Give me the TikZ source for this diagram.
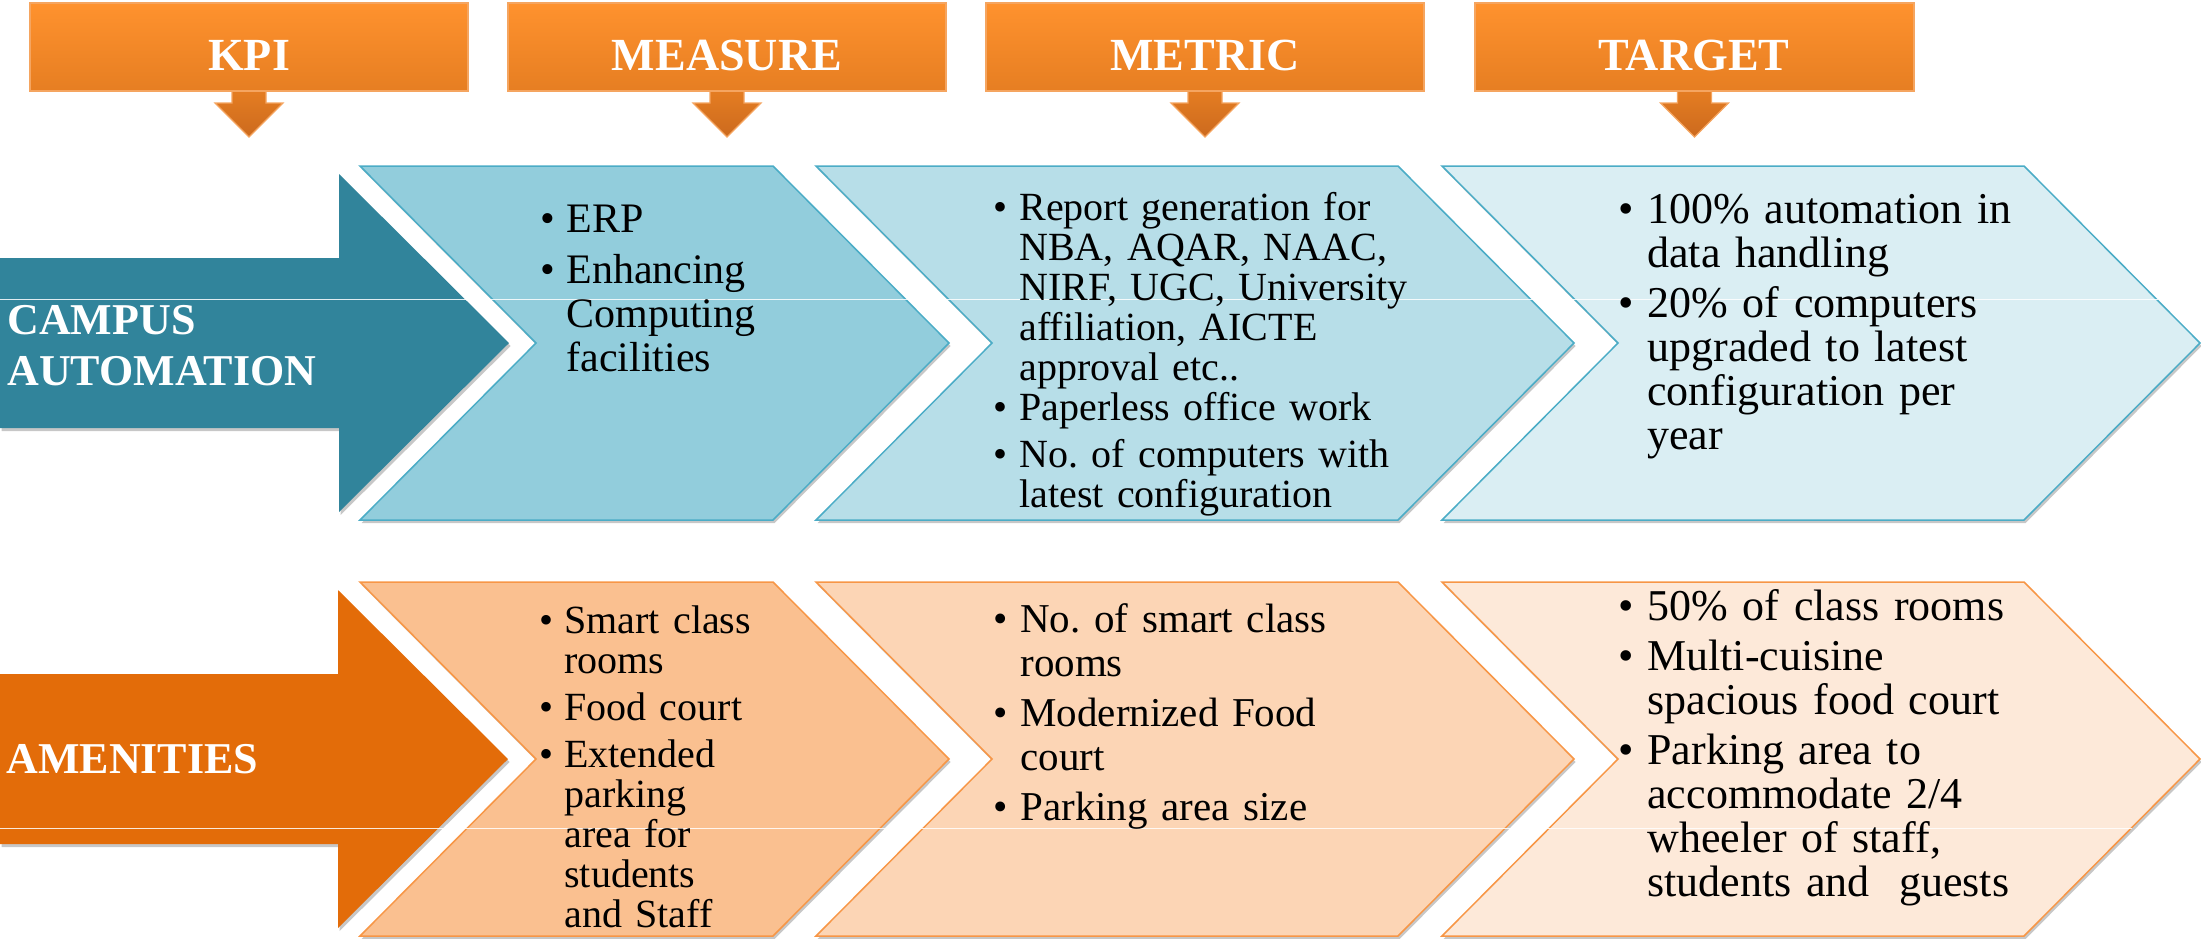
\documentclass[tikz,border=0pt]{standalone}
\usepackage{fontspec}
\setmainfont{Liberation Serif}
\usetikzlibrary{shadows}
\frenchspacing

\definecolor{campusc}{HTML}{31849B}
\definecolor{aqa}{HTML}{92CDDC}
\definecolor{aqb}{HTML}{B7DEE8}
\definecolor{aqc}{HTML}{DAEEF3}
\definecolor{aqline}{HTML}{4BACC6}
\definecolor{amenc}{HTML}{E36C09}
\definecolor{ora}{HTML}{FAC090}
\definecolor{orb}{HTML}{FCD5B5}
\definecolor{orc}{HTML}{FDE9D9}
\definecolor{orline}{HTML}{F79646}
\definecolor{hdtop}{HTML}{FF922E}
\definecolor{hdbot}{HTML}{E67E22}
\definecolor{hdarrow}{HTML}{CC6A1E}
\definecolor{hdline}{HTML}{F5A560}

\newlength{\bind}
\newcommand{\bi}[1]{\hangindent=\bind\hangafter=1\noindent\makebox[\bind][l]{\textbullet}#1\par}
\newcommand{\bg}[1]{\vspace{#1}}

\tikzset{
  x=0.5pt, y=-0.5pt,
  shad/.style={drop shadow={shadow xshift=0.8pt, shadow yshift=-1.5pt, fill=black, opacity=0.22}},
  chevshape/.style={line width=0.75pt, shad},
  hdrbox/.style={draw=hdline, line width=0.6pt, top color=hdtop, bottom color=hdbot},
  hdrarrow/.style={draw=hdline, line width=0.6pt, top color=hdbot, bottom color=hdarrow},
  hdrtext/.style={anchor=base, inner sep=0pt, text=white, font=\fontsize{23pt}{23pt}\selectfont\bfseries},
  bigtext/.style={anchor=base west, inner sep=0pt, text=white, text width=220pt, align=left,
                  font=\fontsize{22pt}{25.5pt}\selectfont\bfseries},
  blist/.style={anchor=base west, inner sep=0pt, text=black, text width=260pt, align=left},
}

\begin{document}
\begin{tikzpicture}
\useasboundingbox (0,0) rectangle (2201,938);

% ---------- header boxes with down arrows ----------
\foreach \xl/\xr in {30/468, 508/946, 986/1424, 1475/1914}{
  \pgfmathsetmacro{\cx}{(\xl+\xr)/2}
  \path[hdrarrow] (\cx-17,88) -- (\cx-17,103) -- (\cx-34,103) -- (\cx,137) -- (\cx+34,103) -- (\cx+17,103) -- (\cx+17,88) -- cycle;
  \path[hdrbox] (\xl,3) rectangle (\xr,91);
}
\node[hdrtext] (hkpi) at (249,70) {KPI};
\node[hdrtext] (hmeasure) at (727,70) {MEASURE};
\node[hdrtext] (hmetric) at (1205,70) {METRIC};
\node[hdrtext] (htarget) at (1694,70) {TARGET};

% ---------- big arrows ----------
\path[fill=campusc, shad] (0,258) -- (339,258) -- (339,174) -- (509,343) -- (339,512) -- (339,428) -- (0,428) -- cycle;
\path[fill=amenc, shad] (0,674) -- (338,674) -- (338,590) -- (508,759) -- (338,928) -- (338,844) -- (0,844) -- cycle;

% ---------- chevrons ----------
\foreach \xl/\xr/\yc/\fc/\lc in {
   360/773/343/aqa/aqline, 816/1398/343/aqb/aqline, 1442/2024/343/aqc/aqline,
   360/773/759/ora/orline, 816/1398/759/orb/orline, 1442/2024/759/orc/orline}{
  \path[chevshape, fill=\fc, draw=\lc] (\xl,\yc-177) -- (\xr,\yc-177) -- (\xr+176,\yc) -- (\xr,\yc+177)
     -- (\xl,\yc+177) -- (\xl+176,\yc) -- cycle;
}

% thin white seams
\draw[white, line width=0.5pt, opacity=0.85] (0,299) -- (2158,299);
\draw[white, line width=0.5pt, opacity=0.85] (0,828) -- (2132,828);

% ---------- row labels ----------
\node[bigtext] (campus) at (7,334) {CAMPUS\newline AUTOMATION};
\node[bigtext] (amen) at (6,773) {AMENITIES};

% ---------- top row texts ----------
\node[blist, font=\fontsize{21pt}{22pt}\selectfont] (tmeasure) at (540,232)
  {\setlength{\bind}{13pt}\bi{ERP}\bg{3.5pt}\bi{Enhancing\newline Computing\newline facilities}};

\node[blist, font=\fontsize{20pt}{20pt}\selectfont] (tmetric) at (993,220)
  {\setlength{\bind}{13pt}\bi{Report generation for\newline NBA, AQAR, NAAC,\newline NIRF, UGC, University\newline affiliation, AICTE\newline approval etc..}\bi{Paperless office work}\bg{3.5pt}\bi{No. of computers with\newline latest configuration}};

\node[blist, font=\fontsize{22pt}{22pt}\selectfont] (ttarget) at (1618,223)
  {\setlength{\bind}{14.5pt}\bi{100\% automation in\newline data handling}\bg{3pt}\bi{20\% of computers\newline upgraded to latest\newline configuration per\newline year}};

% ---------- bottom row texts ----------
\node[blist, font=\fontsize{20pt}{20pt}\selectfont] (bmeasure) at (539,633)
  {\setlength{\bind}{12.5pt}\bi{Smart class\newline rooms}\bg{3.5pt}\bi{Food court}\bg{3.5pt}\bi{Extended\newline parking\newline area for\newline students\newline and Staff}};

\node[blist, font=\fontsize{20.5pt}{22pt}\selectfont] (bmetric) at (993,632)
  {\setlength{\bind}{13.5pt}\bi{No. of smart class\newline rooms}\bg{3pt}\bi{Modernized Food\newline court}\bg{3pt}\bi{Parking area size}};

\node[blist, font=\fontsize{22pt}{22pt}\selectfont] (btarget) at (1618,620)
  {\setlength{\bind}{14.5pt}\bi{50\% of class rooms}\bg{3pt}\bi{Multi-cuisine\newline spacious food court}\bg{3pt}\bi{Parking area to\newline accommodate 2/4\newline wheeler of staff,\newline students and\ \ guests}};
\end{tikzpicture}
\end{document}
